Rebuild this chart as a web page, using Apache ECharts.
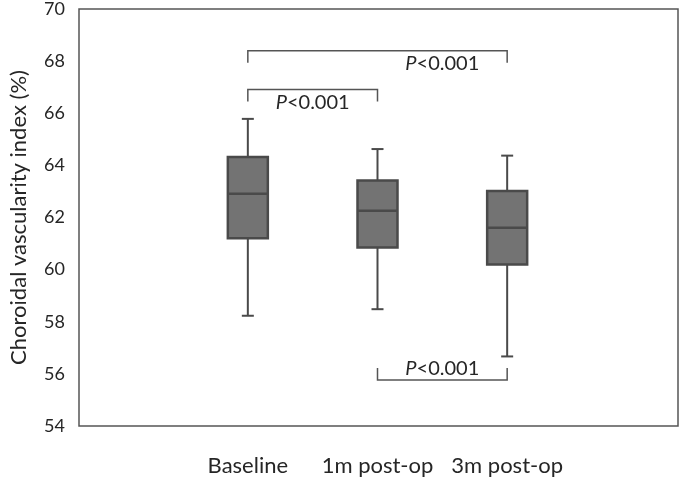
<!DOCTYPE html>
<html>
<head>
<meta charset="utf-8">
<title>Choroidal vascularity index</title>
<script src="https://cdn.jsdelivr.net/npm/echarts@6/dist/echarts.min.js"></script>
<style>
  html, body { margin: 0; padding: 0; background: #fff; }
  #chart { width: 685px; height: 486px; }
</style>
</head>
<body>
<div id="chart"></div>
<script>
// 分组
var categories = ['Baseline', '1m post-op', '3m post-op'];
// 箱线图数据: 下须 / Q1 / 中位数 / Q3 / 上须
var whiskerLow = [58.2, 58.45, 56.65];
var q1 = [61.15, 60.8, 60.15];
var median = [62.85, 62.2, 61.55];
var q3 = [64.25, 63.35, 62.95];
var whiskerHigh = [65.7, 64.55, 64.3];
// y 轴刻度
var yTicks = [54, 56, 58, 60, 62, 64, 66, 68, 70];
// 显著性标注
var bracketFrom = [0, 0, 1];
var bracketTo = [1, 2, 2];
var bracketLevel = [66.82, 68.3, 55.75];
var bracketDir = [1, 1, -1];   // 1: 端点向下, -1: 端点向上
var bracketLabelAt = [0.5, 1.5, 1.5];
var bracketText = ['P<0.001', 'P<0.001', 'P<0.001'];

var font = 'Lato, "Open Sans", sans-serif';

var boxData = categories.map(function (c, i) {
    return [i, whiskerLow[i], q1[i], median[i], q3[i], whiskerHigh[i]];
});
var bracketData = bracketFrom.map(function (f, i) {
    return [f, bracketTo[i], bracketLevel[i], bracketDir[i], bracketLabelAt[i], i];
});

var myChart = echarts.init(document.getElementById('chart'));

var option = {
    animation: false,
    grid: [
        // 外框
        { left: 77, right: 7, top: 6, bottom: 60, show: true, borderColor: '#555', borderWidth: 1.5, backgroundColor: 'transparent' },
        // 箱线所在区域
        { left: 183, right: 113, top: 6, bottom: 60 }
    ],
    xAxis: [
        { gridIndex: 0, type: 'value', min: 0, max: 1, show: false },
        {
            gridIndex: 1,
            type: 'category',
            data: categories,
            axisLine: { show: false },
            axisTick: { show: false },
            axisLabel: { interval: 0, margin: 29, fontSize: 22, color: '#262626', fontFamily: font }
        }
    ],
    yAxis: [
        {
            gridIndex: 0,
            type: 'value',
            min: yTicks[0],
            max: yTicks[yTicks.length - 1],
            interval: 2,
            name: 'Choroidal vascularity index (%)',
            nameLocation: 'middle',
            nameGap: 49,
            nameTextStyle: { fontSize: 22, color: '#262626', fontFamily: font },
            axisLine: { show: false },
            axisTick: { show: false },
            splitLine: { show: false },
            axisLabel: { margin: 14, fontSize: 18, color: '#262626', fontFamily: font }
        },
        {
            gridIndex: 1,
            type: 'value',
            min: yTicks[0],
            max: yTicks[yTicks.length - 1],
            show: false,
            splitLine: { show: false }
        }
    ],
    series: [
        {
            name: 'box',
            type: 'custom',
            xAxisIndex: 1,
            yAxisIndex: 1,
            data: boxData,
            renderItem: function (params, api) {
                var x = api.value(0);
                var pLow = api.coord([x, api.value(1)]);
                var pQ1 = api.coord([x, api.value(2)]);
                var pMed = api.coord([x, api.value(3)]);
                var pQ3 = api.coord([x, api.value(4)]);
                var pHigh = api.coord([x, api.value(5)]);
                var cx = pLow[0];
                var half = 20, cap = 6;
                var line = { stroke: '#4a4a4a', lineWidth: 2 };
                return {
                    type: 'group',
                    children: [
                        { type: 'line', shape: { x1: cx, y1: pHigh[1], x2: cx, y2: pQ3[1] }, style: line },
                        { type: 'line', shape: { x1: cx, y1: pQ1[1], x2: cx, y2: pLow[1] }, style: line },
                        { type: 'line', shape: { x1: cx - cap, y1: pHigh[1], x2: cx + cap, y2: pHigh[1] }, style: line },
                        { type: 'line', shape: { x1: cx - cap, y1: pLow[1], x2: cx + cap, y2: pLow[1] }, style: line },
                        {
                            type: 'rect',
                            shape: { x: cx - half, y: pQ3[1], width: half * 2, height: pQ1[1] - pQ3[1] },
                            style: { fill: '#737373', stroke: '#4a4a4a', lineWidth: 2.5 }
                        },
                        { type: 'line', shape: { x1: cx - half, y1: pMed[1], x2: cx + half, y2: pMed[1] }, style: { stroke: '#4a4a4a', lineWidth: 2.5 } }
                    ]
                };
            }
        },
        {
            name: 'bracket',
            type: 'custom',
            xAxisIndex: 1,
            yAxisIndex: 1,
            data: bracketData,
            renderItem: function (params, api) {
                var y = api.value(2);
                var dir = api.value(3);
                var at = api.value(4);
                var a = api.coord([api.value(0), y]);
                var b = api.coord([api.value(1), y]);
                // 类目轴取整，标签位置在两个类目之间插值
                var lo = api.coord([Math.floor(at), y]);
                var hi = api.coord([Math.ceil(at), y]);
                var tx = lo[0] + (hi[0] - lo[0]) * (at - Math.floor(at));
                var tick = 12 * dir;
                var s = { stroke: '#555', lineWidth: 1.5, fill: null };
                var txt = bracketText[api.value(5)];
                return {
                    type: 'group',
                    children: [
                        {
                            type: 'polyline',
                            shape: { points: [[a[0], a[1] + tick], [a[0], a[1]], [b[0], b[1]], [b[0], b[1] + tick]] },
                            style: s
                        },
                        {
                            type: 'text',
                            x: tx,
                            y: a[1] + (dir > 0 ? 3 : -2),
                            style: {
                                text: '{i|' + txt.charAt(0) + '}{n|' + txt.slice(1) + '}',
                                align: 'center',
                                verticalAlign: dir > 0 ? 'top' : 'bottom',
                                rich: {
                                    i: { fontSize: 20, fontStyle: 'italic', fontFamily: font, fill: '#262626' },
                                    n: { fontSize: 20, fontFamily: font, fill: '#262626' }
                                }
                            }
                        }
                    ]
                };
            }
        }
    ]
};

myChart.setOption(option);

window.addEventListener('resize', function () {
    myChart.resize();
});
</script>
</body>
</html>
